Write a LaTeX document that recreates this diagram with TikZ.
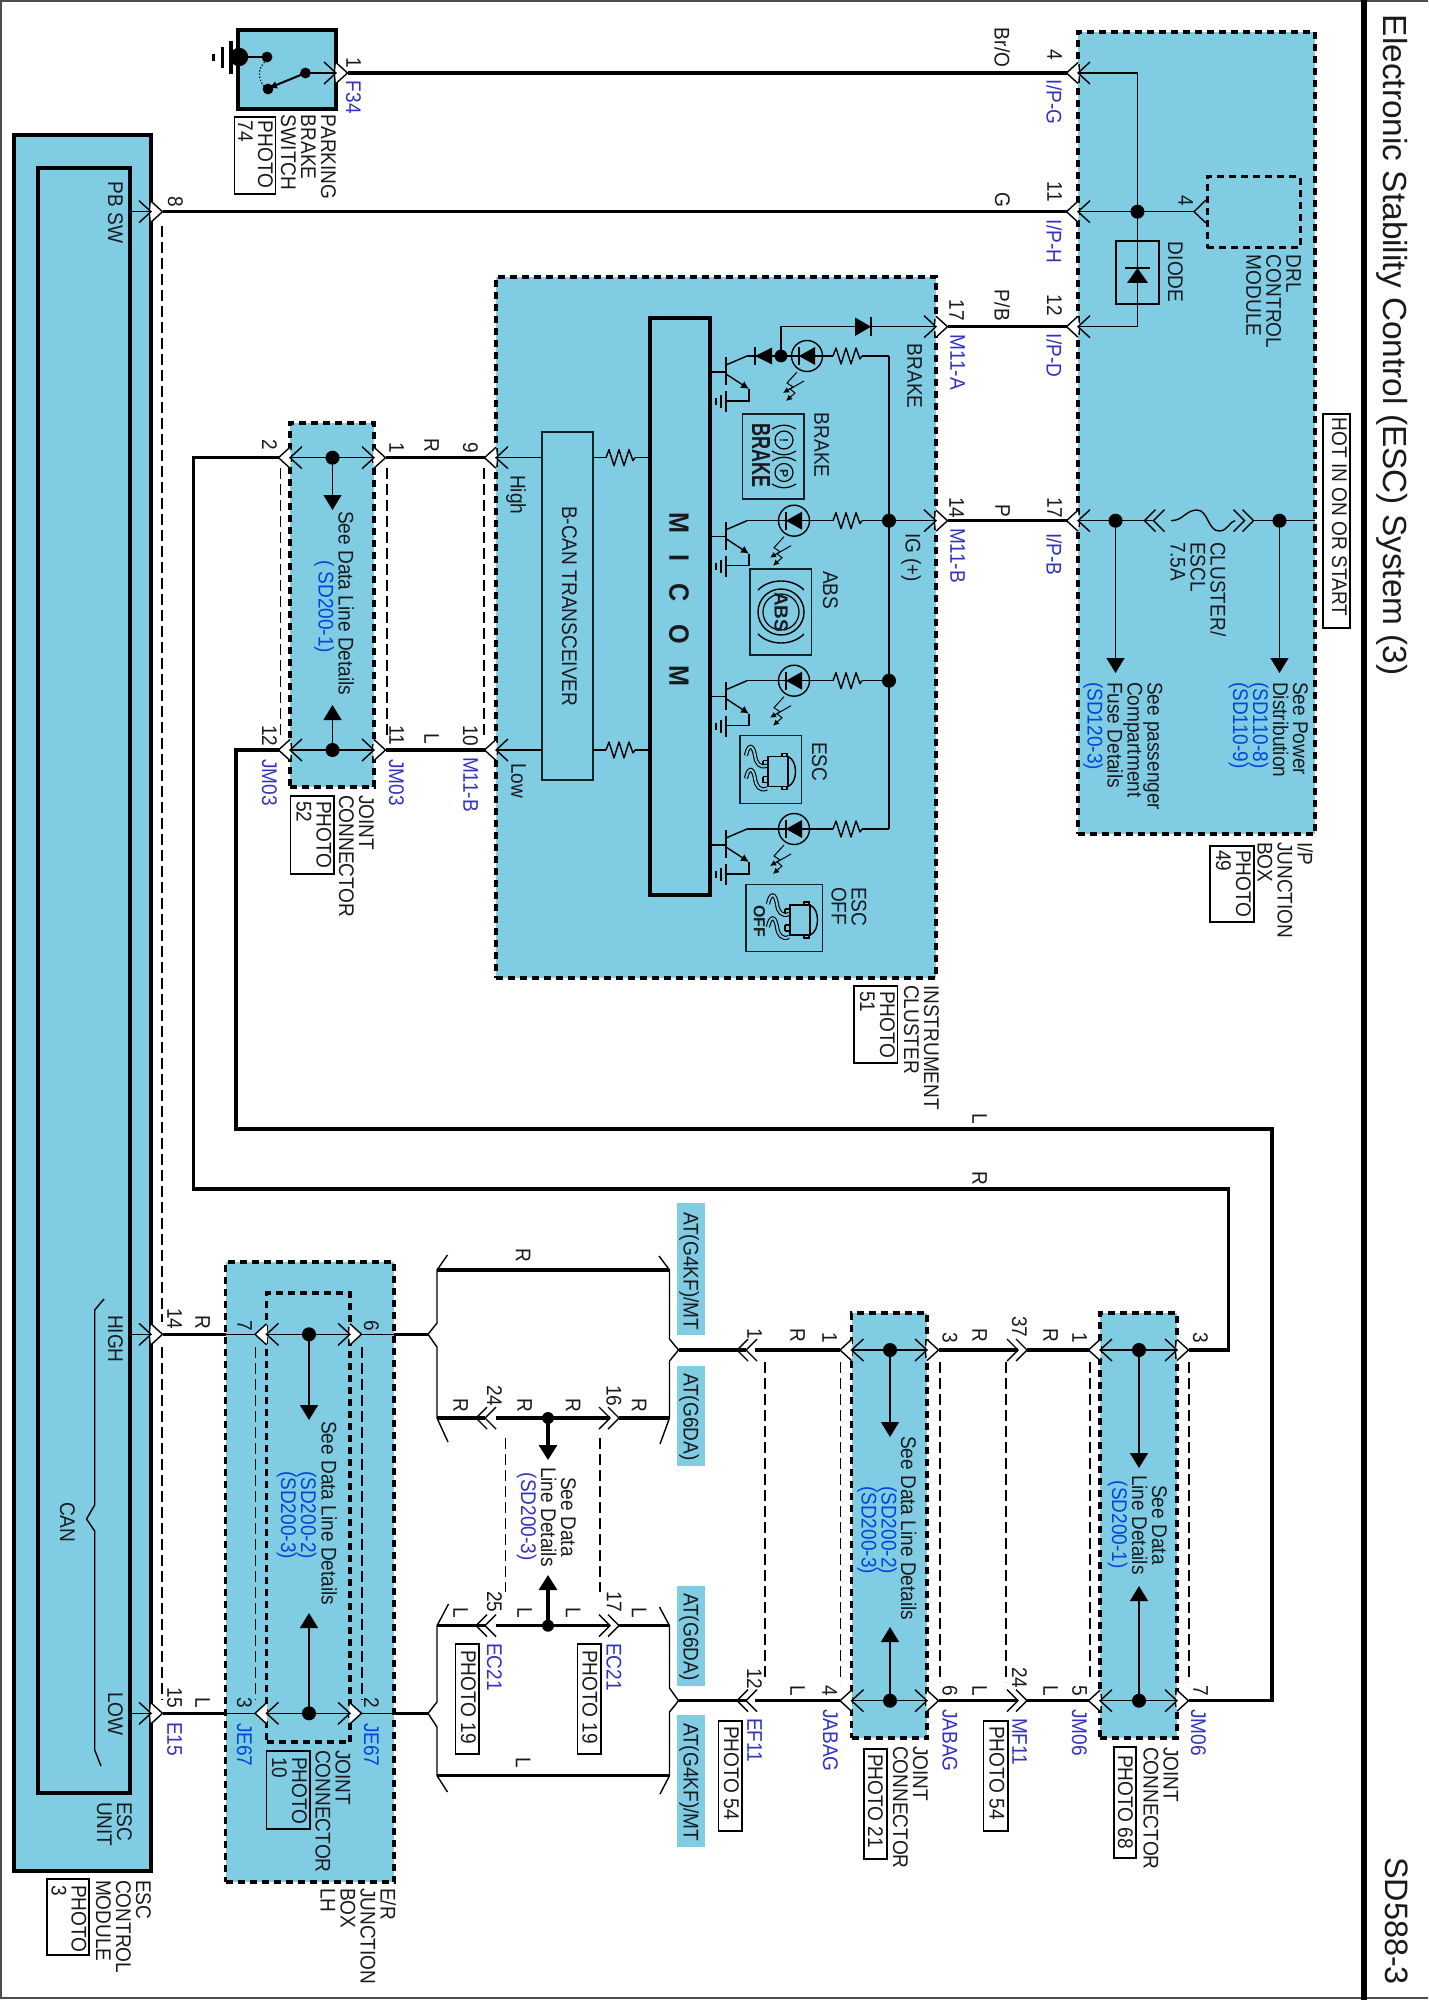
\documentclass[tikz,border=0pt]{standalone}
\usepackage{fontspec}
\setmainfont{Liberation Sans}
\newfontfamily\lbfont[FakeStretch=0.9]{Liberation Sans}
\usetikzlibrary{arrows.meta}
\definecolor{cyanb}{RGB}{127,204,227}
\definecolor{idblue}{RGB}{50,50,190}
\definecolor{sdblue}{RGB}{0,70,220}
\definecolor{txk}{RGB}{25,25,30}
\newcounter{tcnt}
\tikzset{
  lab/.style={rotate=-90,anchor=north west,inner sep=0pt,outer sep=0pt,align=left,text=txk,font=\lbfont\fontsize{10.6}{10}\selectfont},
  ctr/.style={lab,align=center},
  pid/.style={lab,text=idblue},
  sdb/.style={lab,text=sdblue},
  wire/.style={line width=1.75pt,line join=miter},
  thinw/.style={line width=.7pt},
  hair/.style={line width=.5pt},
  thind/.style={line width=.6pt,dash pattern=on 5.5pt off 2.5pt},
  dbox/.style={draw=black,fill=cyanb,line width=1.75pt,dash pattern=on 3.5pt off 2.5pt},
  sbox/.style={draw=black,fill=cyanb,line width=1.75pt},
  ptbox/.style={draw=black,line width=.55pt},
  iconbox/.style={draw=black!85!cyanb,line width=.6pt},
  atbox/.style={fill=cyanb},
  see/.style={-{Triangle[length=7.5pt,width=9pt]},line width=.7pt},
  seeb/.style={-{Triangle[length=7.5pt,width=9pt]},line width=1.6pt}
}
\newcommand{\tx}[4][lab]{\stepcounter{tcnt}\node[#1] (t\arabic{tcnt}) at (#2,#3) {#4};}
\newcommand{\blk}[6]{\node[#2,minimum width={(#5-(#3))*0.5pt},minimum height={(#6-(#4))*0.5pt},inner sep=0pt,outer sep=0pt] (#1) at ({(#3+#5)/2},{(#4+#6)/2}) {};}
% pin on a box edge: #1 x, #2 y, #3 direction (1 right, -1 left)
\newcommand{\pin}[3]{%
  \fill[white] (#1,#2-10.5) -- (#1+#3*11.5,#2) -- (#1,#2+10.5) -- (#1-#3*1,#2) -- cycle;
  \draw[thinw] (#1,#2-10.5) -- (#1+#3*11.5,#2) -- (#1,#2+10.5);
  \draw[thinw] (#1-#3*12,#2-11) -- (#1,#2) -- (#1-#3*12,#2+11);}
% free double chevron: #1 x of first tip, #2 y, #3 direction
\newcommand{\dbl}[3]{%
  \draw[thinw] (#1-#3*11,#2-11) -- (#1,#2) -- (#1-#3*11,#2+11);
  \draw[thinw] (#1-#3*2,#2-11) -- (#1+#3*9,#2) -- (#1-#3*2,#2+11);}
\newcommand{\bdot}[3][3.5pt]{\fill (#2,#3) circle (#1);}
\newcommand{\res}[2]{\draw[thinw,line join=round] (#1,#2) -- ++(3,-8) -- ++(5,16) -- ++(5,-16) -- ++(5,16) -- ++(5,-16) -- ++(4,11) -- ++(2,-3);}
\newcommand{\led}[2]{%
  \draw[thinw] (#1,#2) circle (7.75pt);
  \fill (#1-8,#2) -- (#1+8,#2-9) -- (#1+8,#2+9) -- cycle;
  \draw[thinw] (#1-8,#2-9) -- (#1-8,#2+9);
  \draw[hair,-{Latex[length=3pt,width=3pt]}] (#1-10,#2+16) -- (#1-20,#2+27) -- (#1-14,#2+31) -- (#1-24,#2+37);
  \draw[hair,-{Latex[length=3pt,width=3pt]}] (#1-3,#2+25) -- (#1-17,#2+33) -- (#1-12,#2+37) -- (#1-21,#2+45);}
\newcommand{\trans}[1]{%
  \draw[thinw] (710,#1+16) -- (726,#1+16);
  \draw[thinw] (726,#1+1) -- (726,#1+29);
  \draw[thinw] (726,#1+9) -- (747,#1);
  \draw[thinw,-{Latex[length=4pt,width=4pt]}] (726,#1+18) -- (749,#1+33);
  \draw[thinw] (749,#1+33) -- (749,#1+45) -- (726,#1+45);
  \draw[thinw] (726,#1+35) -- (726,#1+56);
  \draw[thinw] (721,#1+39) -- (721,#1+52);
  \draw[thinw] (716,#1+42) -- (716,#1+49);}
\newcommand{\caricon}[2]{\begin{scope}[shift={(#1,#2)},thinw]
  \draw (28,21) rectangle (48,51);
  \draw (48,21) .. controls (58,25) and (58,47) .. (48,51);
  \draw (23,25) -- (28,25) (23,31) -- (28,31) (23,25) -- (23,31);
  \draw (23,41) -- (28,41) (23,47) -- (28,47) (23,41) -- (23,47);
  \draw (42,18) rectangle (47,21) (42,51) rectangle (47,54);
  \draw[double=cyanb,double distance=1pt,line width=.55pt] (6,20) .. controls (8,9) and (13,8) .. (15,20) .. controls (16,28) and (20,33) .. (27,30);
  \draw[double=cyanb,double distance=1pt,line width=.55pt] (6,43) .. controls (8,32) and (13,31) .. (15,43) .. controls (16,51) and (20,56) .. (27,53);
\end{scope}}
\begin{document}
\begin{tikzpicture}[x=0.5pt,y=-0.5pt]
\useasboundingbox (0,0) rectangle (1428,2000);
% page frame
\draw[line width=.9pt,black!70] (1428,1) -- (1,1) -- (1,1998) -- (1428,1998);
\draw[line width=2.6pt] (1364,0) -- (1364,2000);
\tx[lab,font=\fontsize{16.7}{20}\selectfont]{1408}{15}{Electronic Stability Control (ESC) System (3)}
\tx[lab,font=\fontsize{16.2}{20}\selectfont]{1408}{1857}{SD588-3}
\blk{hotbox}{ptbox}{1323}{414}{1350}{628}
\tx{1347}{418}{HOT IN ON OR START}

% === blocks ===
\blk{ipbox}{dbox}{1078}{32}{1315}{834}
\blk{drl}{dbox,line width=1.5pt}{1207}{177}{1300}{248}
\blk{cluster}{dbox}{496}{277}{936}{978}
\blk{micom}{sbox}{650}{318}{710}{895}
\blk{bcan}{draw=black!85!cyanb,line width=.7pt}{542}{432}{593}{780}
\blk{jm03}{dbox}{290}{423}{374}{787}
\blk{jm06}{dbox}{1100}{1313}{1177}{1738}
\blk{jabag}{dbox}{851.5}{1313}{927}{1738}
\blk{erbox}{dbox}{225.5}{1262}{394}{1882}
\blk{jlh}{dbox}{266.5}{1293}{350}{1742}
\blk{escmod}{sbox}{14}{135}{151}{1871}
\blk{escunit}{sbox}{38}{168}{130}{1793}
\blk{pbs}{sbox}{238}{30}{336}{109}
\blk{atA}{atbox}{677}{1203}{705}{1335}
\blk{atB}{atbox}{677}{1366}{705}{1466}
\blk{atC}{atbox}{677}{1586}{705}{1686}
\blk{atD}{atbox}{677}{1715}{705}{1847}

% === named pin and corner points ===
\coordinate (F34) at (347.5,73);
\coordinate (IPG) at (1066.5,73);
\coordinate (E8) at (162.5,211.7);
\coordinate (IPH) at (1066.5,211.7);
\coordinate (MA) at (947.5,326.7);
\coordinate (IPD) at (1066.5,326.7);
\coordinate (MB) at (947.5,520.7);
\coordinate (IPB) at (1066.5,520.7);
\coordinate (M9) at (484.5,457.7);
\coordinate (M10) at (484.5,750);
\coordinate (J1) at (385.5,457.7);
\coordinate (J11) at (385.5,750);
\coordinate (J2) at (278.5,457.7);
\coordinate (J12) at (278.5,750);
\coordinate (K2a) at (193.5,457.7);
\coordinate (K2b) at (193.5,1189);
\coordinate (K2c) at (1228.5,1189);
\coordinate (K2d) at (1228.5,1350);
\coordinate (K1a) at (236,750);
\coordinate (K1b) at (236,1129);
\coordinate (K1c) at (1272,1129);
\coordinate (K1d) at (1272,1700.7);
\coordinate (M3) at (1188.5,1350);
\coordinate (M7) at (1188.5,1700.7);
\coordinate (M1) at (1088.5,1350);
\coordinate (M5) at (1088.5,1700.7);
\coordinate (F37a) at (1027,1350);
\coordinate (F37b) at (1018,1350);
\coordinate (F24a) at (1027,1700.7);
\coordinate (F24b) at (1018,1700.7);
\coordinate (A3) at (938.5,1350);
\coordinate (A6) at (938.5,1700.7);
\coordinate (A1) at (840,1350);
\coordinate (A4) at (840,1700.7);
\coordinate (E1a) at (755,1350);
\coordinate (E1b) at (746,1350);
\coordinate (E12a) at (755,1700.7);
\coordinate (E12b) at (746,1700.7);
\coordinate (BRu) at (678.5,1350);
\coordinate (BRl) at (678.5,1700.7);
\coordinate (BLu) at (428,1334.3);
\coordinate (BLl) at (428,1713.3);
\coordinate (ER6) at (394,1334.3);
\coordinate (ER2) at (394,1713.3);
\coordinate (ERl) at (225.5,1334.3);
\coordinate (ERm) at (225.5,1713.3);
\coordinate (E14) at (162.5,1334.3);
\coordinate (E15) at (162.5,1713.3);

% === harness wires ===
\draw[wire] (F34) -- (IPG);
\draw[wire] (E8) -- (IPH);
\draw[wire] (MA) -- (IPD);
\draw[wire] (MB) -- (IPB);
\draw[wire] (M9) -- (J1);
\draw[wire] (M10) -- (J11);
\draw[wire] (J2) -- (K2a) -- (K2b) -- (K2c) -- (K2d) -- (M3);
\draw[wire] (J12) -- (K1a) -- (K1b) -- (K1c) -- (K1d) -- (M7);
\draw[wire] (M1) -- (F37a);
\draw[wire] (F37b) -- (A3);
\draw[wire] (M5) -- (F24a);
\draw[wire] (F24b) -- (A6);
\draw[wire] (A1) -- (E1a);
\draw[wire] (A4) -- (E12a);
\draw[wire] (E1b) -- (BRu);
\draw[wire] (E12b) -- (BRl);
\draw[wire] (BLu) -- (ER6);
\draw[wire] (BLl) -- (ER2);
\draw[wire] (E14) -- (ERl);
\draw[wire] (E15) -- (ERm);

% pass-through dashed links
\draw[thind] (162,226) -- (162,1322);
\draw[thind] (162,1347) -- (162,1700);
\draw[thind] (280.5,468) -- (280.5,738);
\draw[thind] (387,468) -- (387,738);
\draw[thind] (484,468) -- (484,738);
\draw[thind] (255.5,1347) -- (255.5,1700);
\draw[thind] (362,1347) -- (362,1700);
\draw[thind] (505.5,1438) -- (505.5,1592);
\draw[thind] (600,1438) -- (600,1592);
\draw[thind] (765,1362) -- (765,1682);
\draw[thind] (840.5,1362) -- (840.5,1682);
\draw[thind] (940,1362) -- (940,1682);
\draw[thind] (1006,1362) -- (1006,1682);
\draw[thind] (1090,1362) -- (1090,1682);
\draw[thind] (1189,1362) -- (1189,1682);

% === parking brake switch ===
\draw[line width=1.75pt] (231,41) -- (231,74);
\draw[line width=1.5pt] (222,47) -- (222,68);
\draw[line width=1.5pt] (213,54) -- (213,61);
\bdot[4.6pt]{239}{57}
\draw[thinw] (239,57) -- (267,57);
\bdot[2.7pt]{267}{57}
\bdot[2.7pt]{268}{89}
\bdot[2.7pt]{305.5}{73}
\draw[line width=.6pt,densely dotted] (267,60) .. controls (256,68) and (258,82) .. (266,88);
\draw[line width=1pt,-{Latex[length=4pt,width=4pt]}] (305.5,73) -- (269,88);
\draw[thinw] (305.5,73) -- (336,73);
\pin{336}{73}{1}

% === I/P junction box ===
\draw[thinw] (1078,73) -- (1137.5,73) -- (1137.5,326.7) -- (1078,326.7);
\draw[thinw] (1078,211.7) -- (1195,211.7);
\bdot{1137.5}{211.7}
\draw[thinw] (1206,200) -- (1194,211.7) -- (1206,223);
\blk{diode}{draw=black,line width=.6pt}{1116}{241}{1159}{304}
\fill (1137.5,268) -- (1148,283) -- (1127,283) -- cycle;
\draw[thinw] (1125,268) -- (1150,268);
\pin{1078}{73}{-1}
\pin{1078}{211.7}{-1}
\pin{1078}{326.7}{-1}
\pin{1078}{520.7}{-1}
% fuse chain
\draw[thinw] (1078,520.7) -- (1153.5,520.7);
\dbl{1153.5}{520.7}{-1}
\draw[thinw] (1171,520.7) .. controls (1183,520.7) and (1186,510) .. (1197,510) .. controls (1208,510) and (1208,531) .. (1219,531) .. controls (1228,531) and (1230,520.7) .. (1235,520.7);
\dbl{1244.5}{520.7}{1}
\draw[thinw] (1253.5,520.7) -- (1315,520.7);
\bdot{1115.5}{520.7}
\bdot{1279.5}{520.7}
\draw[see] (1115.5,520.7) -- (1115.5,673);
\draw[see] (1279.5,520.7) -- (1279.5,673);

% === instrument cluster ===
\draw[thinw] (889,356) -- (889,829);
\draw[thinw] (889,520.7) -- (936,520.7);
\bdot{889}{520.7}
\bdot{889}{680.7}
% BRAKE row
\draw[thinw] (889,356) -- (862,356);
\res{833}{356}
\draw[thinw] (833,356) -- (747,356);
\led{807}{356}
\fill (755,356) -- (772,347.5) -- (772,364.5) -- cycle;
\draw[thinw] (755,347) -- (755,365);
\bdot[3.2pt]{781}{356}
\draw[thinw] (781,356) -- (781,326.7) -- (936,326.7);
\fill (871,326.7) -- (855,317.5) -- (855,336) -- cycle;
\draw[thinw] (871,317) -- (871,336);
\trans{356}
% ABS row
\draw[thinw] (889,520.7) -- (862,520.7);
\res{833}{520.7}
\draw[thinw] (833,520.7) -- (747,520.7);
\led{794}{520.7}
\trans{520.7}
% ESC row
\draw[thinw] (889,680.7) -- (862,680.7);
\res{833}{680.7}
\draw[thinw] (833,680.7) -- (747,680.7);
\led{794}{680.7}
\trans{680.7}
% ESC OFF row
\draw[thinw] (889,829) -- (862,829);
\res{833}{829}
\draw[thinw] (833,829) -- (747,829);
\led{794}{829}
\trans{829}
\pin{936}{326.7}{1}
\pin{936}{520.7}{1}
% lamp icons
\blk{icbrake}{iconbox}{742.5}{414}{804}{499}
\draw[line width=.6pt] (784,440) circle (4.5pt) (784,472.5) circle (4.5pt);
\draw[line width=.6pt] (772,429) .. controls (780,424) and (788,424) .. (796,429);
\draw[line width=.6pt] (772,451) .. controls (780,456) and (788,456) .. (796,451);
\draw[line width=.6pt] (772,461) .. controls (780,456) and (788,456) .. (796,461);
\draw[line width=.6pt] (772,484) .. controls (780,489) and (788,489) .. (796,484);
\tx[lab,font=\fontsize{6}{6}\bfseries\selectfont]{788}{438}{!}
\tx[lab,font=\fontsize{6}{6}\bfseries\selectfont]{788}{469}{P}
\tx[lab,font=\fontsize{9}{9}\bfseries\selectfont]{770}{424}{\scalebox{1}[1.45]{BRAKE}}
\blk{icabs}{iconbox}{750}{569}{811.5}{655}
\draw[line width=.7pt] (781,612) circle (11.5pt);
\draw[line width=.6pt] (781,612) circle (9pt);
\draw[line width=.7pt] (758,590) .. controls (770,578) and (792,578) .. (804,590);
\draw[line width=.7pt] (758,634) .. controls (770,646) and (792,646) .. (804,634);
\tx[lab,font=\fontsize{9.5}{9}\bfseries\selectfont]{788}{592}{ABS}
\blk{icesc}{iconbox}{740}{735.5}{801.5}{803.5}
\caricon{740}{735.5}
\blk{icoff}{iconbox}{746}{884.5}{822.5}{951.5}
\caricon{762}{884}
\tx[lab,font=\fontsize{8}{8}\bfseries\selectfont]{765}{905}{OFF}
% transceiver links
\draw[thinw] (496,457.7) -- (542,457.7);
\draw[thinw] (496,750) -- (542,750);
\draw[thinw] (593,457.7) -- (606,457.7);
\draw[thinw] (593,750) -- (606,750);
\res{606}{457.7}
\res{606}{750}
\draw[thinw] (635,457.7) -- (650,457.7);
\draw[thinw] (635,750) -- (650,750);
\pin{496}{457.7}{-1}
\pin{496}{750}{-1}
\tx[lab,font=\lbfont\fontsize{14}{14}\bfseries\selectfont]{689}{512}{\spaceskip=11pt M I C O M}

% === JM03 ===
\draw[thinw] (290,457.7) -- (374,457.7);
\draw[thinw] (290,750) -- (374,750);
\bdot{332.5}{457.7}
\bdot{332.5}{750}
\draw[see] (332.5,457.7) -- (332.5,510);
\draw[see] (332.5,750) -- (332.5,705);
\pin{374}{457.7}{1}
\pin{374}{750}{1}
\pin{290}{457.7}{-1}
\pin{290}{750}{-1}

% === JM06 ===
\draw[thinw] (1100,1350) -- (1177,1350);
\draw[thinw] (1100,1700.7) -- (1177,1700.7);
\bdot{1139}{1350}
\bdot{1139}{1700.7}
\draw[see] (1139,1350) -- (1139,1468);
\draw[see] (1139,1700.7) -- (1139,1586);
\pin{1177}{1350}{1}
\pin{1177}{1700.7}{1}
\pin{1100}{1350}{-1}
\pin{1100}{1700.7}{-1}

% === JABAG ===
\draw[thinw] (851.5,1350) -- (927,1350);
\draw[thinw] (851.5,1700.7) -- (927,1700.7);
\bdot{890}{1350}
\bdot{890}{1700.7}
\draw[see] (890,1350) -- (890,1437);
\draw[see] (890,1700.7) -- (890,1627);
\pin{927}{1350}{1}
\pin{927}{1700.7}{1}
\pin{851.5}{1350}{-1}
\pin{851.5}{1700.7}{-1}
\dbl{1018}{1350}{1}
\dbl{1018}{1700.7}{1}
\dbl{746}{1350}{-1}
\dbl{746}{1700.7}{-1}

% === E/R junction ===
\draw[thinw] (266.5,1334.3) -- (350,1334.3);
\draw[thinw] (266.5,1713.3) -- (350,1713.3);
\draw[thinw] (225.5,1334.3) -- (256,1334.3);
\draw[thinw] (225.5,1713.3) -- (256,1713.3);
\draw[thinw] (361,1334.3) -- (394,1334.3);
\draw[thinw] (361,1713.3) -- (394,1713.3);
\bdot{309}{1334.3}
\bdot{309}{1713.3}
\draw[see] (309,1334.3) -- (309,1420);
\draw[see] (309,1713.3) -- (309,1613);
\pin{350}{1334.3}{1}
\pin{350}{1713.3}{1}
\pin{266.5}{1334.3}{-1}
\pin{266.5}{1713.3}{-1}

% === ESC control module ===
\draw[thinw] (130,211.7) -- (151,211.7);
\draw[thinw] (130,1334.3) -- (151,1334.3);
\draw[thinw] (130,1713.3) -- (151,1713.3);
\pin{151}{211.7}{1}
\pin{151}{1334.3}{1}
\pin{151}{1713.3}{1}
\draw[thinw] (104,1299) -- (94.7,1310) -- (94.7,1505) -- (86.5,1519) -- (94.7,1531) -- (94.7,1750) -- (101,1766);

% === option braces and branch rows ===
\draw[wire] (437,1270) -- (669,1270);
\draw[wire] (437,1418) -- (485,1418);
\draw[wire] (495.5,1418) -- (610,1418);
\draw[wire] (619,1418) -- (669,1418);
\draw[wire] (437,1625.7) -- (485,1625.7);
\draw[wire] (495.5,1625.7) -- (610,1625.7);
\draw[wire] (619,1625.7) -- (669,1625.7);
\draw[wire] (437,1775.7) -- (669,1775.7);
\dbl{485}{1418}{-1}
\dbl{610}{1418}{1}
\dbl{485}{1625.7}{-1}
\dbl{610}{1625.7}{1}
\bdot[3pt]{548}{1418}
\bdot[3pt]{548}{1625.7}
\draw[seeb] (548,1418) -- (548,1460);
\draw[seeb] (548,1625.7) -- (548,1575);
\draw[thinw] (447.5,1255) -- (437,1270) -- (437,1323) -- (428,1334.3) -- (437,1347) -- (437,1418) -- (448,1442);
\draw[thinw] (448.5,1604) -- (437,1625.7) -- (437,1702) -- (428,1713.3) -- (437,1727) -- (437,1775.7) -- (447.5,1792);
\draw[thinw] (659,1256) -- (669.5,1270) -- (669.5,1339) -- (678.5,1350) -- (669.5,1361) -- (669.5,1418) -- (660,1444);
\draw[thinw] (659.5,1607) -- (669.5,1625.7) -- (669.5,1688) -- (678.5,1700.7) -- (669.5,1712) -- (669.5,1775.7) -- (660,1794);

% === texts ===
\tx{336}{115}{PARKING\\BRAKE\\SWITCH}
\blk{ph74}{ptbox}{234.5}{117}{275.5}{194}
\tx{273}{121}{PHOTO\\74}
\tx{361}{58}{1}
\tx[pid]{361}{81}{F34}
\tx{1010}{28}{Br/O}
\tx{1062}{50}{4}
\tx[pid]{1062}{80}{I/P-G}
\tx{1010}{193}{G}
\tx{1062}{182}{11}
\tx[pid]{1062}{220}{I/P-H}
\tx{1010}{290}{P/B}
\tx{1062}{295}{12}
\tx[pid]{1062}{334}{I/P-D}
\tx{1010}{504}{P}
\tx{1062}{497}{17}
\tx[pid]{1062}{533}{I/P-B}
\tx{964}{300}{17}
\tx[pid]{965}{335}{M11-A}
\tx{964}{497}{14}
\tx[pid]{965}{528}{M11-B}
\tx{922}{344}{BRAKE}
\tx{921}{533}{IG (+)}
\tx{829}{413}{BRAKE}
\tx{838}{571}{ABS}
\tx{827}{742}{ESC}
\tx{866.5}{887}{ESC\\OFF}
\tx{1193}{196}{4}
\tx{1301}{255}{DRL\\CONTROL\\MODULE}
\tx{1183}{242}{DIODE}
\tx{1226}{542}{CLUSTER/\\ESCL\\7.5A}
\tx{1308}{682}{See Power\\Distribution\\{\color{sdblue}(SD110-8)}\\{\color{sdblue}(SD110-9)}}
\tx{1162.5}{682}{See passenger\\Compartment\\Fuse Details\\{\color{sdblue}(SD120-3)}}
\tx{1313}{842}{I/P\\JUNCTION\\BOX}
\blk{ph49}{ptbox}{1210}{846}{1254}{922}
\tx{1251}{850}{PHOTO\\49}
\tx{939}{985}{INSTRUMENT\\CLUSTER}
\blk{ph51}{ptbox}{854}{986}{897.5}{1063}
\tx{895}{991}{PHOTO\\51}
\tx{577}{506}{B-CAN TRANSCEIVER}
\tx{526}{475}{High}
\tx{526}{763}{Low}
\tx{478}{443}{9}
\tx{478}{725}{10}
\tx[pid]{478}{757}{M11-B}
\tx{439}{438}{R}
\tx{439}{733}{L}
\tx{277}{440}{2}
\tx{404}{443}{1}
\tx{277}{725}{12}
\tx{404}{725}{11}
\tx[pid]{277}{759}{JM03}
\tx[pid]{404}{759}{JM03}
\tx{354}{511}{See Data Line Details}
\tx[sdb]{334}{560}{( SD200-1)}
\tx{374}{795}{JOINT\\CONNECTOR}
\blk{ph52}{ptbox}{290.5}{796}{334}{874}
\tx{331.5}{801}{PHOTO\\52}
\tx{987}{1113}{L}
\tx{987}{1171}{R}
\tx{123}{182}{PB SW}
\tx{183}{197}{8}
\tx{123}{1315}{HIGH}
\tx{123}{1692}{LOW}
\tx{75}{1502}{CAN}
\tx{182}{1308}{14}
\tx{210}{1315}{R}
\tx{182}{1687}{15}
\tx{210}{1697}{L}
\tx[pid]{182}{1722}{E15}
\tx{132}{1802}{ESC\\UNIT}
\tx{151}{1880}{ESC\\CONTROL\\MODULE}
\blk{ph3}{ptbox}{47}{1879}{89}{1955}
\tx{86.5}{1885}{PHOTO\\3}
\tx{252}{1320}{7}
\tx{252}{1697}{3}
\tx{379}{1320}{6}
\tx{379}{1697}{2}
\tx[sdb]{252}{1723}{JE67}
\tx[sdb]{379}{1723}{JE67}
\tx{337}{1421}{See Data Line Details}
\tx{316.5}{1471}{{\color{sdblue}(SD200-2)}\\{\color{sdblue}(SD200-3)}}
\tx{350.5}{1750}{JOINT\\CONNECTOR}
\blk{ph10}{ptbox}{266.5}{1751}{310}{1829}
\tx{307}{1757}{PHOTO\\10}
\tx{396}{1888}{E/R\\JUNCTION\\BOX\\LH}
\tx{530.5}{1248}{R}
\tx{468}{1398}{R}
\tx{532}{1398}{R}
\tx{580.5}{1398}{R}
\tx{646.5}{1398}{R}
\tx{502}{1385}{24}
\tx{621.5}{1385}{16}
\tx[ctr]{576}{1467}{See Data\\Line Details\\{\color{idblue}(SD200-3)}}
\tx{468}{1607}{L}
\tx{532}{1607}{L}
\tx{580.5}{1607}{L}
\tx{646.5}{1607}{L}
\tx{502}{1591}{25}
\tx{621.5}{1591}{17}
\tx[pid]{502}{1643}{EC21}
\tx[pid]{621.5}{1643}{EC21}
\blk{phec1}{ptbox}{455.5}{1644}{479}{1754}
\tx{476}{1650}{PHOTO 19}
\blk{phec2}{ptbox}{577.5}{1644}{601}{1754}
\tx{597.5}{1650}{PHOTO 19}
\tx{530.5}{1757}{L}
\tx{699}{1212}{AT(G4KF)/MT}
\tx{699}{1373}{AT(G6DA)}
\tx{699}{1593}{AT(G6DA)}
\tx{699}{1723}{AT(G4KF)/MT}
\tx{762}{1328}{1}
\tx{762}{1668}{12}
\tx[pid]{762}{1718}{EF11}
\blk{phef}{ptbox}{718.5}{1721}{742}{1831}
\tx{739}{1726}{PHOTO 54}
\tx{805}{1328}{R}
\tx{805}{1685}{L}
\tx{837}{1332}{1}
\tx{837}{1685}{4}
\tx[pid]{838}{1709}{JABAG}
\tx{957.5}{1332}{3}
\tx{957.5}{1685}{6}
\tx[pid]{957.5}{1709}{JABAG}
\tx{916.5}{1436}{See Data Line Details}
\tx{897}{1486}{{\color{sdblue}(SD200-2)}\\{\color{sdblue}(SD200-3)}}
\tx{928}{1746}{JOINT\\CONNECTOR}
\blk{ph21}{ptbox}{864}{1749}{887}{1859}
\tx{883}{1754}{PHOTO 21}
\tx{987}{1328}{R}
\tx{987}{1685}{L}
\tx{1027}{1316}{37}
\tx{1027}{1667}{24}
\tx[pid]{1027}{1718}{MF11}
\blk{phmf}{ptbox}{983.5}{1721}{1008}{1831}
\tx{1004.5}{1726}{PHOTO 54}
\tx{1058}{1328}{R}
\tx{1058}{1685}{L}
\tx{1087}{1332}{1}
\tx{1087}{1685}{5}
\tx[pid]{1087}{1709}{JM06}
\tx{1208}{1332}{3}
\tx{1208}{1685}{7}
\tx[pid]{1206}{1709}{JM06}
\tx[ctr]{1167}{1475}{See Data\\Line Details\\{\color{sdblue}(SD200-1)}}
\tx{1178.5}{1747}{JOINT\\CONNECTOR}
\blk{ph68}{ptbox}{1114}{1747}{1136}{1858}
\tx{1133}{1755}{PHOTO 68}
\end{tikzpicture}
\end{document}
